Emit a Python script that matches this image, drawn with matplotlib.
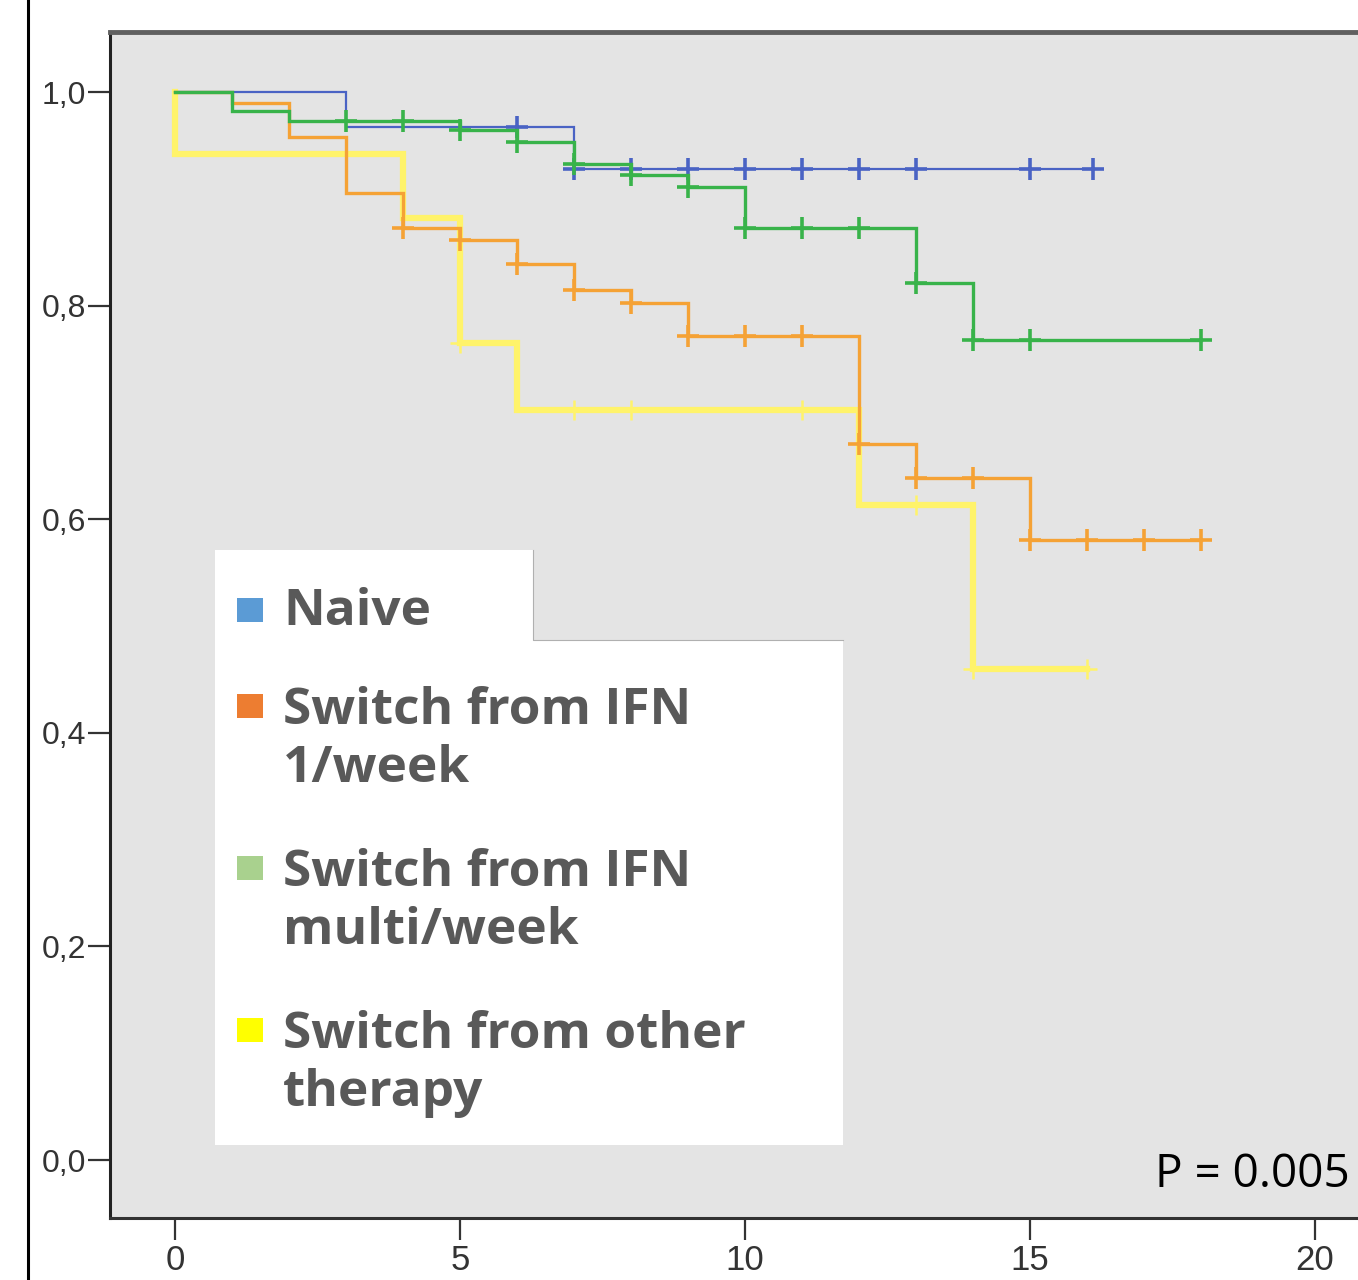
import numpy as np
import matplotlib
matplotlib.use("Agg")
from matplotlib import pyplot as plt
from matplotlib import font_manager
from matplotlib.patches import Rectangle
from matplotlib.lines import Line2D

# Kaplan-Meier steps: event times and survival after each event
naive_t = [3, 7]
naive_s = [0.967, 0.928]
naive_end = 16.1
naive_cens = [6, 7, 8, 9, 10, 11, 12, 13, 15, 16.1]

ifn1_t = [1, 2, 3, 4, 5, 6, 7, 8, 9, 12, 13, 15]
ifn1_s = [0.990, 0.958, 0.905, 0.873, 0.861, 0.839, 0.815, 0.802, 0.772, 0.670, 0.639, 0.581]
ifn1_end = 18
ifn1_cens = [4, 5, 6, 7, 8, 9, 10, 11, 12, 13, 14, 15, 16, 17, 18]

ifnm_t = [1, 2, 5, 6, 7, 8, 9, 10, 13, 14]
ifnm_s = [0.982, 0.973, 0.964, 0.953, 0.933, 0.922, 0.911, 0.873, 0.821, 0.768]
ifnm_end = 18
ifnm_cens = [3, 4, 5, 6, 7, 8, 9, 10, 11, 12, 13, 14, 15, 18]

other_t = [0, 4, 5, 6, 12, 14]
other_s = [0.942, 0.882, 0.765, 0.702, 0.613, 0.460]
other_end = 16
other_cens = [5, 7, 8, 11, 13, 14, 16]

legend_labels = ["Naive", "Switch from IFN\n1/week", "Switch from IFN\nmulti/week",
                 "Switch from other\ntherapy"]
legend_colors = ["#5b9bd5", "#ed7d31", "#a9d18e", "#ffff00"]

x_ticks = [0, 5, 10, 15, 20]
y_ticks = [0.0, 0.2, 0.4, 0.6, 0.8, 1.0]
y_ticklabels = ["0,0", "0,2", "0,4", "0,6", "0,8", "1,0"]
p_text = "P = 0.005"

W, H = 1358, 1280


def fx(px):
    return px / W


def fy(py):
    return 1 - py / H


def km_curve(ax, times, surv, end, cens, color, lw, ms, mew):
    x = [0] + list(times) + [end]
    y = [1.0] + list(surv) + [surv[-1]]
    ax.step(x, y, where="post", color=color, lw=lw, solid_joinstyle="miter")
    # survival level at each censor time
    idx = np.searchsorted(np.array(times), np.array(cens), side="right")
    levels = np.concatenate([[1.0], surv])[idx]
    ax.plot(cens, levels, ls="none", marker="+", color=color, ms=ms, mew=mew)


# narrow font for the x tick labels if there is one
names = {f.name for f in font_manager.fontManager.ttflist}
narrow = [n for n in ["Liberation Sans Narrow", "DejaVu Sans Condensed"] if n in names]
if narrow:
    xfont, xsize = narrow[0], 27
else:
    xfont, xsize = "Liberation Sans", 25

fig = plt.figure(figsize=(W / 100, H / 100), dpi=100)
fig.patch.set_facecolor("white")

ax = fig.add_axes([fx(110), fy(1218), fx(W - 110) + 0.01, fy(32) - fy(1218)])
ax.set_facecolor("#e4e4e4")
ax.set_xlim(-1.14, (1358 + 0.01 * W - 175) / 57.0)
ax.set_ylim(-0.0543, 1.0562)

km_curve(ax, other_t, other_s, other_end, other_cens, "#fff36a", 4.5, 15, 1.8)
km_curve(ax, ifn1_t, ifn1_s, ifn1_end, ifn1_cens, "#f5a235", 2.4, 16, 2.6)
km_curve(ax, naive_t, naive_s, naive_end, naive_cens, "#4a63c4", 1.6, 16, 2.6)
km_curve(ax, ifnm_t, ifnm_s, ifnm_end, ifnm_cens, "#38b34a", 2.4, 16, 2.6)

ax.spines["right"].set_visible(False)
ax.spines["top"].set_color("#606060")
ax.spines["top"].set_linewidth(3.5)
ax.spines["left"].set_color("#222222")
ax.spines["left"].set_linewidth(2.2)
ax.spines["bottom"].set_color("#333333")
ax.spines["bottom"].set_linewidth(2.2)

ax.set_xticks(x_ticks)
ax.set_xticklabels([str(t) for t in x_ticks], family=[xfont, "DejaVu Sans"],
                   fontsize=xsize, color="#333333")
ax.set_yticks(y_ticks)
ax.set_yticklabels(y_ticklabels, family=["Liberation Sans", "DejaVu Sans"], fontsize=23,
                   color="#333333")
ax.tick_params(axis="x", length=16, width=1.6, color="#333333", pad=3)
ax.tick_params(axis="y", length=16, width=1.6, color="#333333", pad=1)

ax.text((1155 - 175) / 57.0, -0.014, p_text, ha="left", va="center", fontsize=33,
        family=["Open Sans", "DejaVu Sans"], color="black", clip_on=False)

# left border line of the original figure
fig.add_artist(Line2D([fx(28), fx(28)], [0, 1], color="black", lw=2.2))

# legend (pasted box)
fig.add_artist(Rectangle((fx(215), fy(640)), fx(533 - 215), fy(550) - fy(640),
                         facecolor="white", edgecolor="none"))
fig.add_artist(Rectangle((fx(215), fy(1145)), fx(843 - 215), fy(640) - fy(1145),
                         facecolor="white", edgecolor="none"))
fig.add_artist(Line2D([fx(533), fx(533), fx(843)], [fy(550), fy(640), fy(640)],
                      color="#b0b0b0", lw=0.8))

swatch_y = [610, 706, 868, 1030]
text_y = [612, 740, 902, 1064]
for lab, col, sy, ty in zip(legend_labels, legend_colors, swatch_y, text_y):
    fig.add_artist(Rectangle((fx(237), fy(sy + 12)), fx(26), fy(sy - 12) - fy(sy + 12),
                             facecolor=col, edgecolor="none"))
    fig.text(fx(283), fy(ty), lab, ha="left", va="center", fontsize=37, fontweight="bold",
             family=["Open Sans", "DejaVu Sans"], color="#595959", linespacing=1.22)

fig.savefig("out.png", dpi=100)
